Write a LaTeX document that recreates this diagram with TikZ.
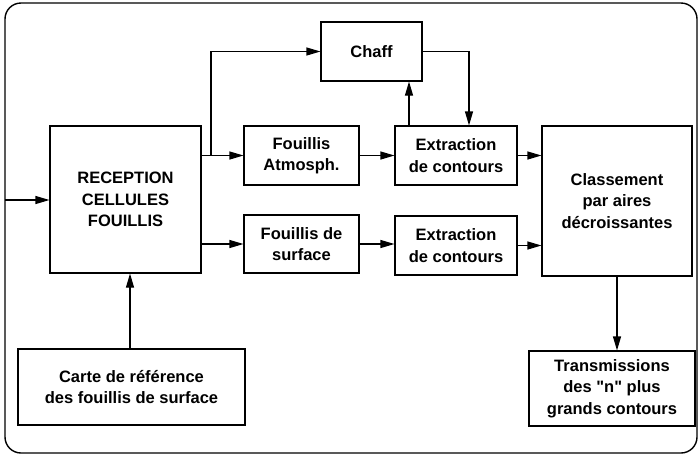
\documentclass[tikz,border=0pt]{standalone}
\usepackage{fontspec}
\setmainfont{Liberation Sans}
\usetikzlibrary{arrows.meta}
\begin{document}
\begin{tikzpicture}[x=1pt,y=-1pt,
  box/.style={draw,line width=1.1pt,align=center,inner sep=0pt,
    font=\bfseries\fontsize{16.5}{21.5}\selectfont},
  arr/.style={line width=1.1pt,-{Triangle[length=14pt,width=8pt]}},
  frame/.style={line width=1.4pt,rounded corners=16pt}]
\useasboundingbox (0,0) rectangle (700,456);
\draw[frame] (5,3) rectangle (697,453);
\node[box,minimum width=151pt,minimum height=147pt] (rec) at (125.5,199.5) {RECEPTION\\CELLULES\\FOUILLIS};
\node[box,minimum width=101pt,minimum height=59pt] (chaff) at (371.5,51.5) {Chaff};
\node[box,minimum width=115pt,minimum height=59pt] (fa) at (301.5,155.5) {Fouillis\\Atmosph.};
\node[box,minimum width=122pt,minimum height=59pt] (e1) at (456,155.5) {Extraction\\de contours};
\node[box,minimum width=150pt,minimum height=150pt] (cl) at (617,201) {\raisebox{-5pt}{\parbox{150pt}{\centering Classement\\par aires\\décroissantes}}};
\node[box,minimum width=115pt,minimum height=58pt] (fs) at (301.5,244) {Fouillis de\\surface};
\node[box,minimum width=122pt,minimum height=59pt] (e2) at (456,245.5) {Extraction\\de contours};
\node[box,minimum width=227pt,minimum height=76pt] (carte) at (131.5,387) {\raisebox{-4pt}{\parbox{227pt}{\centering Carte de référence\\des fouillis de surface}}};
\node[box,minimum width=166pt,minimum height=75pt] (tr) at (612,388.5) {Transmissions\\des \textquotedbl n\textquotedbl{} plus\\grands contours};
\coordinate (in) at (5,200);
\coordinate (br) at (211,155.5);
\draw[arr] (in) -- (in -| rec.west);
\draw[arr] (rec.east |- fa.west) -- (fa.west);
\draw[arr] (br) |- (chaff.west);
\draw[arr] (rec.east |- fs.west) -- (fs.west);
\draw[arr] (fa.east) -- (e1.west);
\draw[arr] ([xshift=-47pt]e1.north) -- ([xshift=-47pt]e1.north |- chaff.south);
\draw[arr] (chaff.east) -| ([xshift=13pt]e1.north);
\draw[arr] (e1.east) -- (e1.east -| cl.west);
\draw[arr] (fs.east) -- (fs.east -| e2.west);
\draw[arr] (e2.east) -- (e2.east -| cl.west);
\draw[arr] ([xshift=-1.5pt]carte.north) -- ([xshift=-1.5pt]carte.north |- rec.south);
\draw[arr] (cl.south) -- (cl.south |- tr.north);
\end{tikzpicture}
\end{document}
